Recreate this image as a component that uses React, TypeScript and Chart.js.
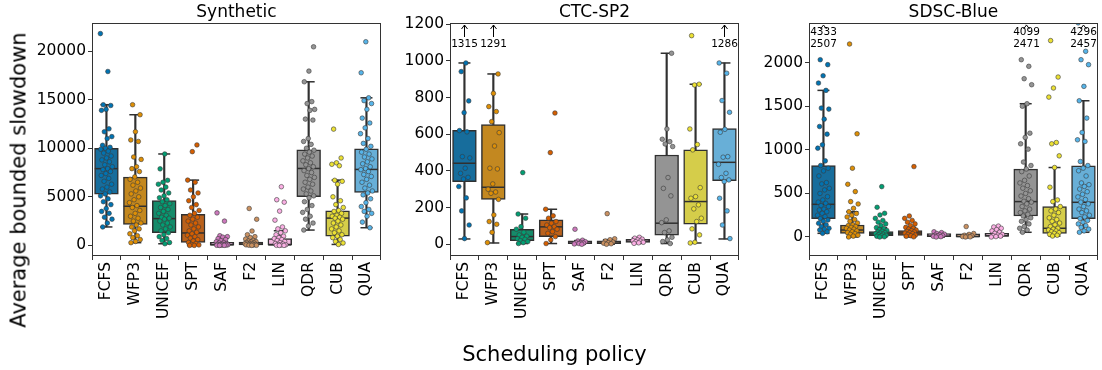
import React, { useEffect, useRef } from "react";
import { Chart, registerables } from "chart.js";

Chart.register(...registerables);

// ---------------- data ----------------
const categories = ["FCFS", "WFP3", "UNICEF", "SPT", "SAF", "F2", "LIN", "QDR", "CUB", "QUA"];
const palette = ["#0173b2", "#de8f05", "#029e73", "#d55e00", "#cc78bc", "#ca9161", "#fbafe4", "#949494", "#ece133", "#56b4e9"];

const panelTitles = ["Synthetic", "CTC-SP2", "SDSC-Blue"];
const xAxisLabel = "Scheduling policy";
const yAxisLabel = "Average bounded slowdown";

// Synthetic
const synTicks = [0, 5000, 10000, 15000, 20000];
const synRange = [-1090, 22890];
const synLow = [1900, 280, 170, 0, 0, 0, 0, 1580, 100, 1820];
const synQ1 = [5280, 2170, 1310, 310, 20, 40, 0, 5010, 960, 5450];
const synMedian = [7900, 4030, 2760, 1280, 60, 150, 50, 7920, 2810, 7820];
const synQ3 = [10000, 7030, 4620, 3210, 160, 300, 690, 9840, 3570, 9950];
const synHigh = [14480, 13450, 9410, 6720, 380, 520, 1510, 16840, 6720, 15190];
const synPoints = [
  [21800, 17900, 14480, 14400, 14000, 13900, 12000, 11700, 11200, 11000, 10300, 10100, 10000, 9900, 9700, 9500, 9200, 9000, 8800, 8600, 8300, 8100, 7900, 7800, 7600, 7400, 7200, 6900, 6600, 6300, 6000, 5800, 5500, 5300, 5100, 4800, 4500, 4200, 3800, 3500, 3300, 2900, 2700, 2300, 1900],
  [14480, 13450, 11700, 10850, 10700, 9100, 8850, 8100, 7900, 7600, 7050, 6800, 6500, 6200, 5900, 5600, 5300, 5000, 4700, 4400, 4100, 3900, 3600, 3300, 3000, 2800, 2500, 2300, 2100, 1900, 1700, 1500, 1200, 1000, 800, 600, 400, 280],
  [9410, 7880, 6700, 6500, 6300, 6000, 5700, 5400, 5100, 4900, 4700, 4500, 4300, 4100, 3900, 3700, 3500, 3300, 3100, 2900, 2800, 2700, 2500, 2300, 2100, 1900, 1700, 1500, 1300, 1100, 900, 700, 500, 300, 170],
  [10340, 9650, 6720, 6500, 5700, 5400, 5000, 4600, 4200, 3900, 3600, 3300, 3100, 2900, 2700, 2500, 2300, 2100, 1900, 1700, 1500, 1350, 1200, 1050, 900, 750, 600, 450, 300, 200, 100, 50, 0, 0],
  [3350, 2500, 1000, 900, 850, 700, 600, 500, 380, 300, 250, 200, 150, 120, 100, 80, 60, 50, 40, 30, 20, 10, 5, 0],
  [3800, 2690, 1480, 1100, 900, 800, 650, 520, 450, 400, 350, 300, 250, 200, 180, 150, 120, 100, 80, 60, 40, 20, 10, 0],
  [6040, 4700, 4450, 3530, 2600, 1900, 1700, 1500, 1300, 1100, 950, 800, 700, 600, 500, 400, 300, 200, 150, 100, 60, 30, 10, 0, 0],
  [20440, 17940, 16840, 14800, 14600, 14000, 13900, 13000, 12900, 11000, 10700, 10400, 10000, 9800, 9600, 9400, 9200, 9000, 8700, 8500, 8300, 8100, 7900, 7700, 7500, 7200, 7000, 6800, 6500, 6300, 6000, 5800, 5600, 5300, 5100, 4900, 4500, 4100, 3700, 3400, 3000, 2700, 2300, 2000, 1580],
  [11970, 9000, 8500, 8350, 8200, 6700, 6600, 6300, 5000, 4600, 4200, 3900, 3600, 3500, 3300, 3100, 3000, 2900, 2800, 2700, 2500, 2300, 2100, 1900, 1700, 1500, 1300, 1100, 950, 800, 600, 400, 250, 100],
  [20960, 17770, 15190, 14900, 14600, 14000, 13100, 12600, 12100, 11500, 11000, 10500, 10200, 9900, 9600, 9400, 9100, 8900, 8600, 8400, 8100, 7900, 7800, 7600, 7300, 7100, 6800, 6500, 6200, 5900, 5600, 5400, 5200, 4800, 4400, 4000, 3700, 3500, 3300, 3000, 2400, 1820],
];

// CTC-SP2
const ctcTicks = [0, 200, 400, 600, 800, 1000, 1200];
const ctcRange = [-64, 1207];
const ctcLow = [29, 7, 4, 4, 0, 0, 5, 4, 7, 29];
const ctcQ1 = [342, 245, 20, 42, 3, 3, 10, 49, 109, 347];
const ctcMedian = [442, 311, 42, 95, 6, 7, 17, 115, 233, 447];
const ctcQ3 = [622, 653, 82, 133, 10, 12, 25, 487, 515, 631];
const ctcHigh = [989, 929, 165, 191, 20, 25, 35, 1042, 873, 989];
const ctcPoints = [
  [1315, 989, 942, 782, 718, 620, 613, 478, 471, 415, 387, 365, 356, 315, 253, 182, 105, 31],
  [1291, 929, 823, 751, 724, 669, 609, 536, 415, 411, 329, 300, 285, 278, 245, 160, 124, 109, 65, 9],
  [391, 165, 142, 96, 82, 65, 51, 44, 38, 30, 27, 20, 15, 9, 4],
  [716, 500, 191, 155, 142, 124, 115, 105, 96, 90, 82, 69, 60, 42, 24, 4],
  [82, 22, 18, 14, 10, 8, 6, 4, 2, 0],
  [167, 30, 25, 18, 12, 9, 6, 3, 0],
  [38, 33, 28, 24, 20, 17, 14, 11, 8, 5],
  [1042, 629, 573, 560, 547, 533, 364, 305, 264, 133, 118, 73, 64, 38, 24, 15, 4],
  [1138, 873, 869, 629, 544, 515, 309, 260, 251, 215, 193, 142, 124, 84, 51, 11, 7],
  [1286, 989, 933, 784, 720, 627, 611, 478, 475, 436, 387, 364, 351, 342, 251, 182, 105, 31],
];

// SDSC-Blue
const sdscTicks = [0, 500, 1000, 1500, 2000];
const sdscRange = [-218, 2455];
const sdscLow = [42, 0, 0, 0, 0, 0, 0, 54, 11, 54];
const sdscQ1 = [211, 42, 15, 19, 5, 2, 8, 241, 42, 211];
const sdscMedian = [375, 80, 35, 46, 10, 5, 15, 406, 100, 398];
const sdscQ3 = [820, 138, 61, 73, 20, 10, 25, 778, 349, 816];
const sdscHigh = [1682, 290, 107, 110, 35, 20, 40, 1529, 797, 1563];
const sdscPoints = [
  [4333, 2507, 2034, 1977, 1850, 1766, 1682, 1479, 1467, 1352, 1268, 1180, 1057, 1019, 873, 820, 789, 758, 700, 624, 609, 559, 540, 500, 463, 425, 400, 387, 360, 349, 320, 310, 290, 272, 250, 234, 210, 195, 180, 157, 140, 119, 100, 90, 80, 60, 42],
  [2214, 1184, 789, 605, 521, 406, 379, 329, 290, 270, 250, 230, 200, 180, 160, 140, 130, 120, 110, 100, 90, 80, 70, 60, 50, 40, 30, 20, 10, 0],
  [578, 341, 272, 253, 214, 190, 170, 150, 130, 107, 95, 85, 75, 65, 58, 50, 44, 38, 32, 26, 20, 14, 8, 3, 0],
  [808, 241, 214, 190, 170, 150, 130, 110, 100, 90, 80, 72, 65, 58, 50, 44, 38, 30, 22, 15, 8, 2],
  [60, 50, 40, 32, 26, 20, 16, 12, 8, 4, 0],
  [120, 40, 30, 20, 14, 9, 5, 2, 0],
  [125, 115, 100, 85, 70, 55, 42, 30, 22, 15, 10, 5, 0],
  [4099, 2471, 2034, 1958, 1816, 1747, 1529, 1500, 1191, 1142, 1069, 1008, 860, 820, 780, 750, 700, 650, 620, 590, 560, 530, 500, 470, 440, 410, 400, 380, 350, 320, 300, 280, 260, 241, 220, 200, 180, 150, 120, 100, 80, 54],
  [2253, 1835, 1709, 1605, 1084, 1069, 931, 797, 571, 425, 406, 349, 320, 300, 280, 250, 220, 200, 180, 160, 140, 120, 100, 90, 80, 70, 60, 50, 42, 30, 20, 11],
  [4296, 2457, 2130, 2034, 1977, 1728, 1563, 1364, 1199, 1115, 1096, 866, 820, 790, 760, 700, 620, 600, 580, 550, 520, 490, 460, 430, 400, 380, 350, 320, 300, 280, 250, 230, 211, 190, 170, 150, 130, 110, 90, 70, 54],
];

// ---------------- helpers ----------------
const FONT = '"DejaVu Sans", "Liberation Sans", sans-serif';
const LINE = "#303030";

function hexToRgb(hex: string) {
  const n = parseInt(hex.slice(1), 16);
  return [((n >> 16) & 255) / 255, ((n >> 8) & 255) / 255, (n & 255) / 255];
}
function desaturate(hex: string, prop: number) {
  const [r, g, b] = hexToRgb(hex);
  const mx = Math.max(r, g, b), mn = Math.min(r, g, b);
  const l = (mx + mn) / 2;
  let h = 0, s = 0;
  if (mx !== mn) {
    const d = mx - mn;
    s = l <= 0.5 ? d / (mx + mn) : d / (2 - mx - mn);
    const rc = (mx - r) / d, gc = (mx - g) / d, bc = (mx - b) / d;
    if (r === mx) h = bc - gc;
    else if (g === mx) h = 2 + rc - bc;
    else h = 4 + gc - rc;
    h = ((h / 6) % 1 + 1) % 1;
  }
  s *= prop;
  const v = (m1: number, m2: number, hue: number) => {
    hue = ((hue % 1) + 1) % 1;
    if (hue < 1 / 6) return m1 + (m2 - m1) * hue * 6;
    if (hue < 0.5) return m2;
    if (hue < 2 / 3) return m1 + (m2 - m1) * (2 / 3 - hue) * 6;
    return m1;
  };
  let rr = l, gg = l, bb = l;
  if (s !== 0) {
    const m2 = l <= 0.5 ? l * (1 + s) : l + s - l * s;
    const m1 = 2 * l - m2;
    rr = v(m1, m2, h + 1 / 3); gg = v(m1, m2, h); bb = v(m1, m2, h - 1 / 3);
  }
  const to = (x: number) => Math.round(x * 255);
  return `rgb(${to(rr)},${to(gg)},${to(bb)})`;
}
function jitter(i: number, j: number) {
  const f = (j * 0.6180339887 + i * 0.2718281828) % 1;
  return (f - 0.5) * 0.42;
}

type PanelSpec = {
  title: string;
  ticks: number[];
  range: number[];
  low: number[]; q1: number[]; median: number[]; q3: number[]; high: number[];
  points: number[][];
  left: number;
};

const PLOT_W = 298;
const Y_AXIS_W = 92;
const CANVAS_W = Y_AXIS_W + PLOT_W + 4;
const CANVAS_H = 370;
const TOP = 23;
const BOTTOM = 256;

function Panel({ spec }: { spec: PanelSpec }) {
  const ref = useRef<HTMLCanvasElement | null>(null);
  useEffect(() => {
    if (!ref.current) return;
    const boxColors = palette.map((c) => desaturate(c, 0.75));
    const idx = categories.map((_, i) => i);
    const pts: { x: number; y: number }[] = [];
    const ptColors: string[] = [];
    spec.points.forEach((arr, i) =>
      arr.forEach((v, j) => {
        pts.push({ x: i + jitter(i, j), y: v });
        ptColors.push(palette[i]);
      })
    );
    const whiskers: any[] = [];
    idx.forEach((i) => {
      whiskers.push({ x: i, y: [spec.low[i], spec.q1[i]] });
      whiskers.push({ x: i, y: [spec.q3[i], spec.high[i]] });
    });
    const caps: any[] = [];
    idx.forEach((i) => {
      caps.push({ x: i, y: spec.low[i] });
      caps.push({ x: i, y: spec.high[i] });
    });
    const yMax = spec.range[1];

    const notes = {
      id: "frameNotes",
      afterDatasetsDraw(chart: any) {
        const { ctx, chartArea: a, scales } = chart;
        ctx.save();
        ctx.strokeStyle = "#333";
        ctx.lineWidth = 1;
        ctx.strokeRect(Math.round(a.left) + 0.5, Math.round(a.top) + 0.5, Math.round(a.right - a.left) - 1, Math.round(a.bottom - a.top) - 1);
        ctx.fillStyle = "#000";
        ctx.font = `17px ${FONT}`;
        ctx.textAlign = "center";
        ctx.textBaseline = "alphabetic";
        ctx.fillText(spec.title, (a.left + a.right) / 2, a.top - 6);
        ctx.font = `10.5px ${FONT}`;
        ctx.textBaseline = "middle";
        ctx.strokeStyle = "#000";
        spec.points.forEach((arr, i) => {
          const over = arr.filter((v) => v > yMax).sort((p, q) => q - p);
          if (!over.length) return;
          const x = Math.round(scales.x.getPixelForValue(i)) + 0.5;
          const textBottom = a.top + 27;
          const n = over.length;
          over.forEach((v, k) => {
            ctx.fillText(String(v), x, textBottom - 6 - (n - 1 - k) * 12);
          });
          const y1 = textBottom - n * 12 - 1;
          const y0 = a.top + 2;
          ctx.beginPath();
          if (y1 > y0) {
            ctx.moveTo(x, y1);
            ctx.lineTo(x, y0);
          }
          ctx.moveTo(x - 3, y0 + 4);
          ctx.lineTo(x, y0);
          ctx.lineTo(x + 3, y0 + 4);
          ctx.stroke();
        });
        ctx.restore();
      },
    };

    const chart = new Chart(ref.current, {
      type: "bar",
      data: {
        datasets: [
          {
            type: "scatter",
            order: 0,
            data: pts,
            pointRadius: 2.3,
            pointBackgroundColor: ptColors,
            pointBorderColor: "#3a3a3a",
            pointBorderWidth: 0.6,
          } as any,
          {
            type: "scatter",
            order: 1,
            data: idx.map((i) => ({ x: i, y: spec.median[i] })),
            pointStyle: "line",
            pointRadius: 11.6,
            borderColor: LINE,
            pointBorderColor: LINE,
            pointBorderWidth: 1.5,
          } as any,
          {
            type: "scatter",
            order: 2,
            data: caps,
            pointStyle: "line",
            pointRadius: 6,
            borderColor: LINE,
            pointBorderColor: LINE,
            pointBorderWidth: 1.5,
          } as any,
          {
            type: "bar",
            order: 3,
            data: whiskers,
            grouped: false,
            barThickness: 1.5,
            backgroundColor: LINE,
            borderWidth: 0,
          } as any,
          {
            type: "bar",
            order: 4,
            data: idx.map((i) => ({ x: i, y: [spec.q1[i], spec.q3[i]] })),
            grouped: false,
            barThickness: 23.8,
            minBarLength: 3,
            backgroundColor: boxColors,
            borderColor: LINE,
            borderWidth: 1.5,
            borderSkipped: false,
          } as any,
        ],
      },
      options: {
        responsive: false,
        animation: false,
        devicePixelRatio: 1,
        events: [],
        layout: { padding: { top: TOP, right: CANVAS_W - Y_AXIS_W - PLOT_W, left: 0, bottom: 0 } },
        plugins: { legend: { display: false }, tooltip: { enabled: false }, title: { display: false } },
        scales: {
          x: {
            type: "linear",
            min: -0.5,
            max: 9.5,
            offset: false,
            afterBuildTicks: (s: any) => {
              s.ticks = idx.map((i) => ({ value: i }));
            },
            afterFit: (s: any) => {
              s.height = CANVAS_H - BOTTOM;
            },
            ticks: {
              autoSkip: false,
              minRotation: 90,
              maxRotation: 90,
              padding: 2,
              color: "#000",
              font: { family: FONT, size: 15.5 },
              callback: (v: any) => categories[v] ?? "",
            },
            grid: { display: true, drawOnChartArea: false, drawTicks: true, tickLength: 4, color: "#333" },
            border: { display: false },
          },
          y: {
            type: "linear",
            min: spec.range[0],
            max: spec.range[1],
            afterBuildTicks: (s: any) => {
              s.ticks = spec.ticks.map((v) => ({ value: v }));
            },
            afterFit: (s: any) => {
              s.width = Y_AXIS_W;
            },
            ticks: {
              padding: 2,
              color: "#000",
              font: { family: FONT, size: 15.5 },
              callback: (v: any) => String(v),
            },
            grid: { display: true, drawOnChartArea: false, drawTicks: true, tickLength: 4, color: "#333" },
            border: { display: false },
          },
        },
      } as any,
      plugins: [notes],
    });
    return () => chart.destroy();
  }, [spec]);
  return (
    <canvas
      ref={ref}
      width={CANVAS_W}
      height={CANVAS_H}
      style={{ position: "absolute", left: spec.left - Y_AXIS_W, top: 0, width: CANVAS_W, height: CANVAS_H }}
    />
  );
}

const specs: PanelSpec[] = [
  { title: panelTitles[0], ticks: synTicks, range: synRange, low: synLow, q1: synQ1, median: synMedian, q3: synQ3, high: synHigh, points: synPoints, left: 92 },
  { title: panelTitles[1], ticks: ctcTicks, range: ctcRange, low: ctcLow, q1: ctcQ1, median: ctcMedian, q3: ctcQ3, high: ctcHigh, points: ctcPoints, left: 450 },
  { title: panelTitles[2], ticks: sdscTicks, range: sdscRange, low: sdscLow, q1: sdscQ1, median: sdscMedian, q3: sdscQ3, high: sdscHigh, points: sdscPoints, left: 809 },
];

export default function App() {
  return (
    <div style={{ position: "fixed", left: 0, top: 0, width: 1102, height: 370, overflow: "hidden", background: "#fff", fontFamily: FONT }}>
      {specs.map((s) => (
        <Panel key={s.title} spec={s} />
      ))}
      <div
        style={{
          position: "absolute",
          left: 18.5,
          top: 180,
          transform: "translate(-50%, -50%) rotate(-90deg)",
          whiteSpace: "nowrap",
          fontSize: 21,
          lineHeight: "21px",
          color: "#000",
        }}
      >
        {yAxisLabel}
      </div>
      <div
        style={{
          position: "absolute",
          left: 554.5,
          top: 344,
          transform: "translateX(-50%)",
          whiteSpace: "nowrap",
          fontSize: 21,
          lineHeight: "21px",
          color: "#000",
        }}
      >
        {xAxisLabel}
      </div>
    </div>
  );
}
